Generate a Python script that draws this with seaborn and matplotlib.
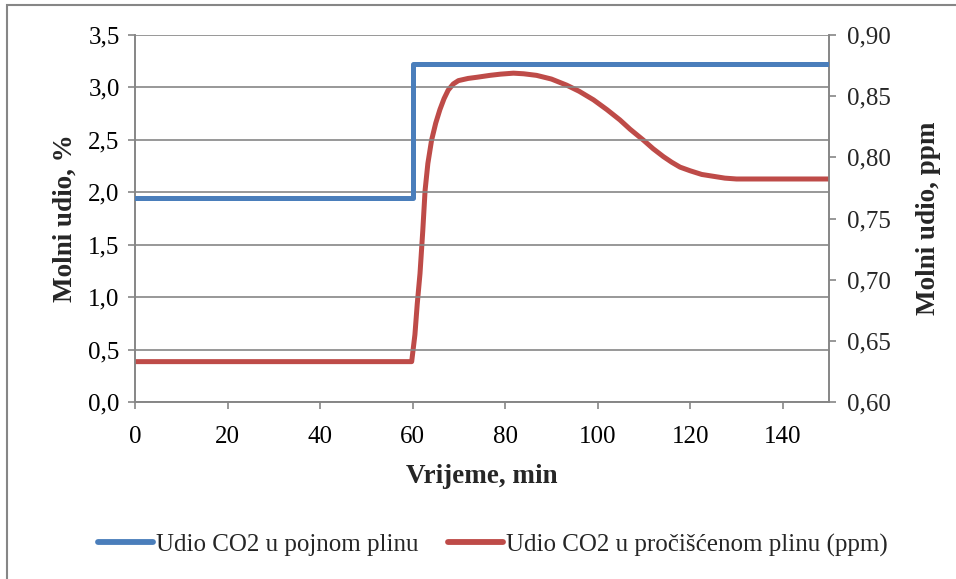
import matplotlib
matplotlib.use("Agg")
import matplotlib.pyplot as plt
import seaborn as sns
import pandas as pd
from matplotlib.patches import Rectangle
from matplotlib.ticker import FuncFormatter

# ---- data ----
feed_time = [0, 60, 60, 150]
feed_co2 = [1.95, 1.95, 3.22, 3.22]

clean_time = [0, 59.8, 60.5, 61, 61.6, 62.2, 62.7, 63.3, 64.1, 65, 65.9, 66.8, 67.7,
              68.8, 69.9, 72, 74, 76.7, 79, 81.8, 84, 86.8, 90, 93.3, 96, 99.1, 102,
              104.8, 107, 109.9, 112, 114.2, 116, 117.8, 120, 122.5, 125, 127.5, 130,
              135, 150]
clean_co2 = [0.633, 0.633, 0.655, 0.68, 0.705, 0.74, 0.773, 0.795, 0.814, 0.828, 0.839,
             0.848, 0.855, 0.860, 0.8627, 0.8645, 0.8655, 0.867, 0.868, 0.8688, 0.8683,
             0.867, 0.864, 0.859, 0.854, 0.847, 0.839, 0.8306, 0.823, 0.814, 0.807,
             0.8006, 0.796, 0.792, 0.789, 0.786, 0.7845, 0.783, 0.7823, 0.7823, 0.7823]

x_ticks = [0, 20, 40, 60, 80, 100, 120, 140]
left_ticks = [0.0, 0.5, 1.0, 1.5, 2.0, 2.5, 3.0, 3.5]
right_ticks = [0.60, 0.65, 0.70, 0.75, 0.80, 0.85, 0.90]

label_feed = "Udio CO2 u pojnom plinu"
label_clean = "Udio CO2 u pročišćenom plinu (ppm)"

sns.set_theme(style="white")
plt.rcParams['font.family'] = ['Liberation Serif', 'DejaVu Serif']

BLUE = "#4A7EBB"
RED = "#BE4B48"
GRAY = "#868686"
FS = 18
FSL = 19.5

fig = plt.figure(figsize=(9.56, 5.79), dpi=100)
ax = fig.add_axes([135/956, 1-402/579, (829-135)/956, (402-35)/579])
ax2 = ax.twinx()

df_feed = pd.DataFrame({"t": feed_time, "v": feed_co2})
df_clean = pd.DataFrame({"t": clean_time, "v": clean_co2})

sns.lineplot(data=df_feed, x="t", y="v", ax=ax, color=BLUE, lw=3.6,
             estimator=None, sort=False, label=label_feed, legend=False,
             solid_joinstyle="round", solid_capstyle="round", zorder=5)
sns.lineplot(data=df_clean, x="t", y="v", ax=ax2, color=RED, lw=3.6,
             estimator=None, sort=False, label=label_clean, legend=False,
             solid_joinstyle="round", solid_capstyle="round", zorder=5)

ax.set_zorder(ax2.get_zorder() + 1)
ax.patch.set_visible(False)

ax.set_xlim(0, 150)
ax.set_ylim(0, 3.5)
ax2.set_ylim(0.60, 0.90)
ax.set_xticks(x_ticks)
ax.set_yticks(left_ticks)
ax2.set_yticks(right_ticks)

comma1 = FuncFormatter(lambda v, p: f"{v:.1f}".replace(".", ","))
comma2 = FuncFormatter(lambda v, p: f"{v:.2f}".replace(".", ","))
ax.yaxis.set_major_formatter(comma1)
ax2.yaxis.set_major_formatter(comma2)

for a in (ax, ax2):
    for s in a.spines.values():
        s.set_color(GRAY)
        s.set_linewidth(1.2)
    a.spines['top'].set_visible(False)
ax.yaxis.grid(True, color=GRAY, lw=1.2)
ax.xaxis.grid(False)
ax2.grid(False)

ax.tick_params(axis='both', which='major', direction='out', length=5, width=1.2,
               color=GRAY, labelsize=FS, labelcolor='black')
ax.tick_params(axis='y', pad=6, left=True)
ax.tick_params(axis='x', pad=12, bottom=True)
ax2.tick_params(axis='y', direction='out', length=5, width=1.2, color=GRAY,
                labelsize=FS, pad=8, right=True)

ax.set_xlabel("Vrijeme, min", fontsize=FSL, fontweight='bold', labelpad=12)
ax.set_ylabel("Molni udio, %", fontsize=FSL, fontweight='bold', labelpad=8)
ax2.set_ylabel("Molni udio, ppm", fontsize=FSL, fontweight='bold', labelpad=18)

handles = ax.get_lines()[:1] + ax2.get_lines()[:1]
leg = fig.legend(handles, [label_feed, label_clean], loc='center',
                 bbox_to_anchor=(493/956, 1-545/579), ncol=2, frameon=False,
                 fontsize=FS, handlelength=2.2, handletextpad=0.1, columnspacing=1.2)
for h in leg.get_lines():
    h.set_linewidth(4.2)

fig.patches.append(Rectangle((7/956, -0.05), 1.2, 1.05 - 5/579,
                             transform=fig.transFigure, fill=False,
                             edgecolor=GRAY, lw=1.5, zorder=0))

fig.savefig("out.png", dpi=100)
